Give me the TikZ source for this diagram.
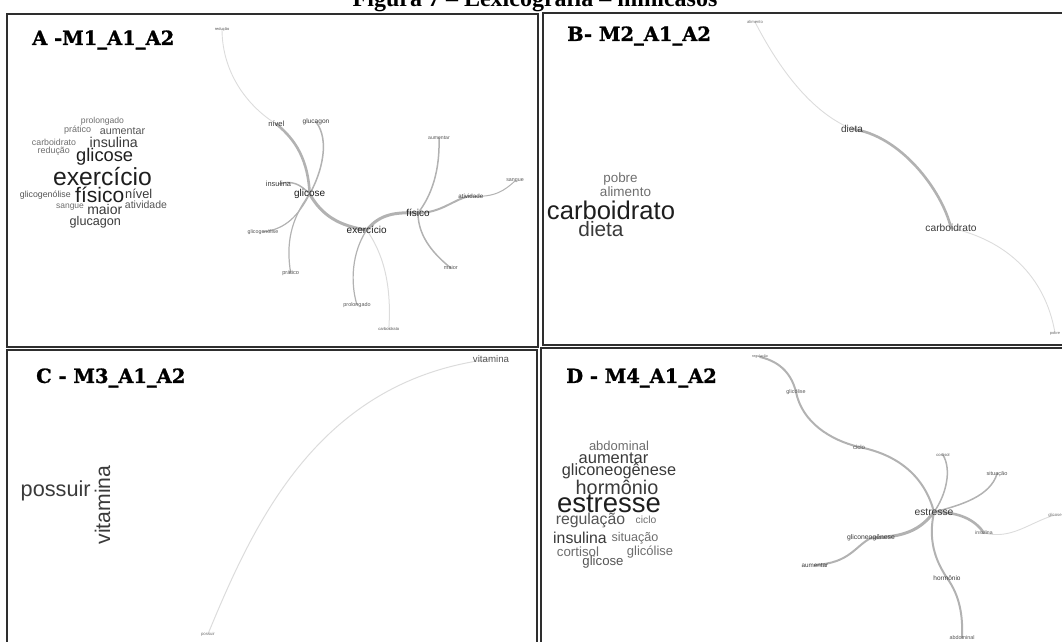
\documentclass[tikz,border=0pt]{standalone}
\usepackage{fontspec}
\newfontfamily\arial{Liberation Sans}
\newfontfamily\slab{DejaVu Serif Bold}[FakeBold=1.2]
\newfontfamily\tms{Liberation Serif}
\usetikzlibrary{backgrounds}
\newcommand\fsz[1]{\fontsize{#1}{#1}\selectfont}
\definecolor{k1}{HTML}{1E1E1E}
\definecolor{k2}{HTML}{3A3A3A}
\definecolor{k3}{HTML}{555555}
\definecolor{k4}{HTML}{6E6E6E}
\definecolor{lnk}{HTML}{B2B2B2}
\definecolor{lnkl}{HTML}{DCDCDC}
\definecolor{frm}{HTML}{2E2E2E}
\begin{document}
\begin{tikzpicture}[x=1pt,y=-1pt,
  wc/.style 2 args={font=\arial\fsz{#1}, text=#2, inner sep=0pt, anchor=center},
  ttl/.style={font=\slab\fsz{19.5}, inner sep=0pt, anchor=west, text=black},
  lk/.style={draw=lnk, line width=#1, line cap=round},
  lkl/.style={draw=lnkl, line width=#1, line cap=round},
  pan/.style={draw=frm, line width=1.6}]
\useasboundingbox (0,0) rectangle (1062,642);

% title (top clipped)
\node[font=\tms\bfseries\fsz{24}, inner sep=0pt, anchor=base] (fig) at (535,7) {Figura 7 – Lexicografia – minicasos};

% frames
\draw[pan] (7,14) rectangle (538,347);
\draw[pan] (543,13) rectangle (1080,345);
\draw[pan] (7,350) rectangle (537,660);
\draw[pan] (541,348) rectangle (1080,660);

% panel titles
\node[ttl] (tA) at (32,40) {A -M1\_A1\_A2};
\node[ttl] (tB) at (567,36) {B- M2\_A1\_A2};
\node[ttl] (tC) at (36,378) {C - M3\_A1\_A2};
\node[ttl] (tD) at (566,378) {D - M4\_A1\_A2};

% ---------- Panel A word cloud
\node[wc={8.6}{k4}] (ca1) at (102.5,121) {prolongado};
\node[wc={9}{k4}] (ca2) at (77.7,130) {prático};
\node[wc={10.7}{k3}] (ca3) at (122.5,131) {aumentar};
\node[wc={8.8}{k4}] (ca4) at (54,142) {carboidrato};
\node[wc={14.2}{k2}] (ca5) at (113.8,142) {insulina};
\node[wc={8.9}{k4}] (ca6) at (53.8,151) {redução};
\node[wc={18.3}{k1}] (ca7) at (104.7,157) {glicose};
\node[wc={24.7}{k1}] (ca8) at (102.5,177) {exercício};
\node[wc={8.8}{k3}] (ca9) at (45.3,195) {glicogenólise};
\node[wc={21}{k1}] (ca10) at (99.7,195) {físico};
\node[wc={12.8}{k2}] (ca11) at (138.7,194) {nível};
\node[wc={8.5}{k4}] (ca12) at (70,207) {sangue};
\node[wc={14}{k2}] (ca13) at (104.8,209) {maior};
\node[wc={10.5}{k3}] (ca14) at (146,205) {atividade};
\node[wc={12.6}{k2}] (ca15) at (95.3,222) {glucagon};

% ---------- Panel A network
\node[wc={4}{k3}] (red) at (222,29) {redução};
\node[wc={7.6}{k2}] (niv) at (276.3,124) {nível};
\node[wc={6.6}{k2}] (glu) at (316,122) {glucagon};
\node[wc={5.1}{k3}] (aum) at (439,138) {aumentar};
\node[wc={5.3}{k3}] (san) at (515,181) {sangue};
\node[wc={7.4}{k2}] (ins) at (278.5,184) {insulina};
\node[wc={10}{k1}] (gli) at (309.7,194) {glicose};
\node[wc={6.2}{k2}] (ati) at (470.8,196) {atividade};
\node[wc={10}{k1}] (fis) at (418,213) {físico};
\node[wc={10}{k1}] (exe) at (366.7,230) {exercício};
\node[wc={5.3}{k3}] (glg) at (263,232) {glicogenólise};
\node[wc={5.5}{k3}] (mai) at (450.8,268) {maior};
\node[wc={5.6}{k3}] (pra) at (290.7,273) {prático};
\node[wc={5.4}{k3}] (pro) at (357,305) {prolongado};
\node[wc={4.2}{k3}] (car) at (388.8,329) {carboidrato};

% ---------- Panel B word cloud
\node[wc={13.4}{k4}] (cb1) at (620.5,179) {pobre};
\node[wc={13.5}{k4}] (cb2) at (625.5,192) {alimento};
\node[wc={25.6}{k1}] (cb3) at (611,210) {carboidrato};
\node[wc={20.8}{k2}] (cb4) at (601,229) {dieta};

% ---------- Panel B network
\node[wc={4.2}{k4}] (bali) at (755,22) {alimento};
\node[wc={10}{k2}] (bdie) at (852,129) {dieta};
\node[wc={10.2}{k2}] (bcar) at (951,228) {carboidrato};
\node[wc={4}{k4}] (bpob) at (1055,333) {pobre};

% ---------- Panel C word cloud
\node[wc={21.7}{k2}] (cc1) at (55.7,491) {possuir};
\node[wc={21.2}{k2}, rotate=90] (cc2) at (102.5,505) {vitamina};

% ---------- Panel C network
\node[wc={9.7}{k3}] (cvit) at (491,359) {vitamina};
\node[wc={4.3}{k4}] (cpos) at (208,634) {possuir};

% ---------- Panel D word cloud
\node[wc={13}{k4}] (cd1) at (619,446) {abdominal};
\node[wc={16.5}{k2}] (cd2) at (613.5,458) {aumentar};
\node[wc={16.3}{k2}] (cd3) at (619,471) {gliconeogênese};
\node[wc={19.8}{k2}] (cd4) at (617,487) {hormônio};
\node[wc={27.5}{k1}] (cd5) at (609,504) {estresse};
\node[wc={15.8}{k3}] (cd6) at (590.5,520) {regulação};
\node[wc={10.3}{k4}] (cd7) at (646,520) {ciclo};
\node[wc={15.8}{k2}] (cd8) at (580,538) {insulina};
\node[wc={12.6}{k4}] (cd9) at (635,538) {situação};
\node[wc={13.3}{k4}] (cd10) at (578,552) {cortisol};
\node[wc={13}{k4}] (cd11) at (650,552) {glicólise};
\node[wc={13.2}{k3}] (cd12) at (603,562) {glicose};

% ---------- Panel D network
\node[wc={3.6}{k3}] (dreg) at (760,357) {regulação};
\node[wc={5.4}{k3}] (dglc) at (796,392) {glicólise};
\node[wc={6}{k3}] (dcic) at (859,447) {ciclo};
\node[wc={4.2}{k3}] (dcor) at (943,455) {cortisol};
\node[wc={5.6}{k3}] (dsit) at (997,474) {situação};
\node[wc={10.3}{k2}] (dest) at (934,512) {estresse};
\node[wc={4.3}{k4}] (dgli) at (1055,515) {glicose};
\node[wc={5.1}{k3}] (dins) at (984,533) {insulina};
\node[wc={6.8}{k2}] (dgng) at (871,538) {gliconeogênese};
\node[wc={6.3}{k2}] (daum) at (815,565) {aumentar};
\node[wc={6.5}{k2}] (dhor) at (947,578) {hormônio};
\node[wc={5.4}{k3}] (dabd) at (962,638) {abdominal};

% ---------- connectors (behind the words)
\begin{pgfonlayer}{background}
% A
\draw[lkl={0.9}] (red.center) .. controls (222,75) and (250,108) .. (niv.center);
\draw[lk={2.6}] (niv.center) .. controls (296,140) and (308,160) .. (gli.center);
\draw[lk={1.5}] (glu.center) .. controls (330,140) and (322,172) .. (gli.center);
\draw[lk={1.5}] (ins.center) .. controls (292,180) and (300,184) .. (gli.center);
\draw[lk={1.2}] (gli.center) .. controls (298,216) and (286,229) .. (glg.center);
\draw[lk={1.2}] (gli.center) .. controls (290,220) and (286,245) .. (pra.center);
\draw[lk={3}] (gli.center) .. controls (322,216) and (340,226) .. (exe.center);
\draw[lk={3}] (exe.center) .. controls (380,214) and (395,212) .. (fis.center);
\draw[lk={1.2}] (exe.center) .. controls (352,252) and (350,282) .. (pro.center);
\draw[lkl={1}] (exe.center) .. controls (382,252) and (392,282) .. (car.center);
\draw[lk={1.5}] (fis.center) .. controls (432,195) and (440,170) .. (aum.center);
\draw[lk={2}] (fis.center) .. controls (442,213) and (455,198) .. (ati.center);
\draw[lk={1}] (ati.center) .. controls (495,198) and (505,190) .. (san.center);
\draw[lk={1.5}] (fis.center) .. controls (418,238) and (436,256) .. (mai.center);
% B
\draw[lkl={0.9}] (bali.center) .. controls (772,55) and (805,110) .. (bdie.center);
\draw[lk={2.6}] (bdie.center) .. controls (900,135) and (942,190) .. (bcar.center);
\draw[lkl={0.9}] (bcar.center) .. controls (1005,240) and (1045,275) .. (bpob.center);
% C
\draw[lkl={1}] (cpos.center) .. controls (255,520) and (320,380) .. (cvit.center);
% D
\draw[lk={2}] (dreg.center) .. controls (782,362) and (792,376) .. (dglc.center);
\draw[lk={2}] (dglc.center) .. controls (802,422) and (830,440) .. (dcic.center);
\draw[lk={2}] (dcic.center) .. controls (900,455) and (925,478) .. (dest.center);
\draw[lk={1.5}] (dcor.center) .. controls (952,470) and (946,495) .. (dest.center);
\draw[lk={1.5}] (dsit.center) .. controls (990,496) and (962,505) .. (dest.center);
\draw[lk={2.6}] (dest.center) .. controls (960,512) and (975,520) .. (dins.center);
\draw[lkl={0.9}] (dins.center) .. controls (1012,540) and (1030,522) .. (dgli.center);
\draw[lk={3}] (dest.center) .. controls (920,530) and (905,537) .. (dgng.center);
\draw[lk={2}] (dgng.center) .. controls (855,546) and (850,563) .. (daum.center);
\draw[lk={2}] (dest.center) .. controls (928,540) and (935,560) .. (dhor.center);
\draw[lk={2}] (dhor.center) .. controls (960,596) and (963,616) .. (dabd.center);
\end{pgfonlayer}
\end{tikzpicture}
\end{document}
